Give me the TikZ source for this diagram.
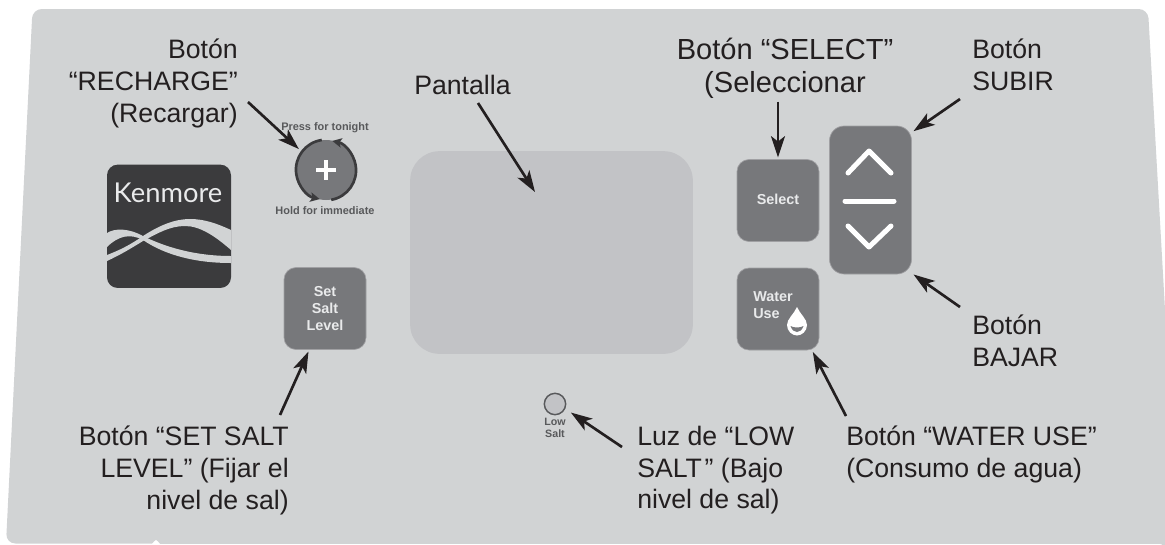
\documentclass[tikz,border=0pt]{standalone}
\usepackage{fontspec}
\setmainfont{Liberation Sans}
\newfontfamily\logofont{Lato}
\usepackage{xcolor}
\usetikzlibrary{calc,arrows.meta}

\definecolor{panelgray}{HTML}{D1D3D4}
\definecolor{screengray}{HTML}{C2C3C6}
\definecolor{btngray}{HTML}{77787B}
\definecolor{logodark}{HTML}{3B3B3D}
\definecolor{smallgray}{HTML}{58595B}
\definecolor{capwhite}{HTML}{E9EAEB}
\definecolor{inkblack}{HTML}{231F20}

\begin{document}
\begin{tikzpicture}[x=0.75pt,y=-0.75pt,
    panelbtn/.style={draw=btngray!70!white,line width=0.5pt,fill=btngray,rounded corners=9pt,
      minimum width=61.5pt,minimum height=61.5pt,inner sep=0pt,outer sep=1.5pt,
      text=capwhite,font=\bfseries\fontsize{10.8}{13}\selectfont},
    callout/.style={inner sep=0pt,text=inkblack,font=\fontsize{20}{23.7}\selectfont},
    pointer/.style={line width=2pt,inkblack,-{Stealth[length=16pt,width=10.5pt,inset=4pt]}},
    tinytext/.style={inner sep=0pt,text=smallgray,font=\bfseries\fontsize{8.2}{9}\selectfont},
    chevron/.style={white,line width=3.75pt,line cap=round,line join=round},
    ring/.style={logodark,line width=2pt,-{Stealth[length=7pt,width=7pt,inset=1.5pt]}}]

  % Panel, cut off by the page
  \clip (0,0) rectangle (1165,544);
  \fill[panelgray,rounded corners=7pt] (32.5,9) -- (1148,9) -- (1167,345) -- (1167,600) -- (1167,543.5) -- (6,543.5) -- cycle;
  \fill[panelgray] (158,540) rectangle (1165,544);
  \fill[white] (152,544) .. controls (154,543) and (154,540) .. (156,540) .. controls (158,540) and (158,543) .. (160,544) -- cycle;

  % Display
  \node[fill=screengray,rounded corners=22pt,minimum width=212pt,minimum height=152pt,inner sep=0pt] (screen) at (551.5,252.5) {};
  \coordinate (tipPantalla) at (535,192);

  % Kenmore logo
  \node[fill=logodark,rounded corners=8pt,minimum width=93pt,minimum height=92.5pt,inner sep=0pt] (logo) at (169,226.3) {};
  \begin{scope}
    \clip[rounded corners=8pt] (107,164.5) rectangle (231,288);
    \fill[panelgray] (107,233) .. controls (115,228) and (128,228) .. (143,236) .. controls (165,247) and (195,256) .. (231,256) -- (231,263)
      .. controls (195,263) and (165,255) .. (143,240) .. controls (130,233) and (118,236) .. (107,247) -- cycle;
    \fill[panelgray] (107,255) .. controls (120,250) and (130,245) .. (143,236) .. controls (160,225) and (175,219) .. (190,219)
      .. controls (205,219) and (218,224) .. (231,230) -- (231,250) .. controls (215,236) and (200,226) .. (185,226)
      .. controls (170,226) and (158,233) .. (143,241) .. controls (130,249) and (120,255) .. (107,261) -- cycle;
  \end{scope}
  \node[inner sep=0pt,text=capwhite,font=\logofont\fontsize{20.5}{24}\selectfont] (logoname) at (168,193) {Kenmore};

  % Recharge button
  \node[circle,fill=btngray,minimum size=45pt,inner sep=0pt] (btnRecharge) at (326,170) {};
  \draw[ring] (btnRecharge.98) arc[start angle=98,end angle=258,radius=22.5pt];
  \draw[ring] (btnRecharge.-80) arc[start angle=-80,end angle=78,radius=22.5pt];
  \draw[white,line width=3.4pt] (316,170) -- (336,170);
  \draw[white,line width=3.4pt] (326,160) -- (326,180);
  \node[tinytext] (txtPress) at (325,128) {Press for tonight};
  \node[tinytext] (txtHold) at (325,211) {Hold for immediate};

  % Buttons
  \node[panelbtn,align=center] (btnSalt) at (325,308.5) {Set\\Salt\\Level};
  \node[panelbtn] (btnSelect) at (778,200.5) {\raisebox{1.5pt}{Select}};
  \node[panelbtn] (btnWater) at (778,309) {};
  \node[inner sep=0pt,text=capwhite,align=left,anchor=north west,font=\bfseries\fontsize{10.8}{13}\selectfont] (txtWater) at (753,291) {Water\\Use};
  \fill[white] (797,307) .. controls (800,314) and (807,319) .. (807,325) .. controls (807,331) and (802,335.5) .. (797,335.5)
    .. controls (792,335.5) and (787,331) .. (787,325) .. controls (787,319) and (794,314) .. (797,307) -- cycle;
  \fill[btngray] (790.5,326) .. controls (792,330) and (794,332) .. (797,332) .. controls (800,332) and (802,330) .. (803.5,326)
    .. controls (800,328) and (794,328) .. (790.5,326) -- cycle;

  % Up and down button
  \node[panelbtn,minimum height=111pt,rounded corners=11pt] (btnUpDown) at (870.5,200) {};
  \draw[chevron] (848,173) -- (869,151) -- (891,173);
  \draw[chevron] (845,201) -- (894,201);
  \draw[chevron] (848,226) -- (869,247) -- (891,226);

  % Low salt light
  \node[circle,draw=smallgray,line width=1.1pt,fill=screengray,minimum size=16pt,inner sep=0pt] (ledSalt) at (555,404) {};
  \node[inner sep=0pt,text=smallgray,align=center,font=\bfseries\fontsize{8}{8.7}\selectfont] (txtSalt) at (555,428) {Low\\Salt};

  % Labels
  \node[callout,align=right,anchor=north east] (lblRecharge) at (238,39) {Botón\\“RECHARGE”\\(Recargar)};
  \node[callout,anchor=north west] (lblPantalla) at (414,75) {Pantalla};
  \node[callout,align=center,anchor=north,font=\fontsize{21.8}{24.5}\selectfont] (lblSelect) at (785,38) {Botón “SELECT”\\(Seleccionar};
  \node[callout,align=left,anchor=north west] (lblSubir) at (972,39) {Botón\\SUBIR};
  \node[callout,align=left,anchor=north west] (lblBajar) at (972,315) {Botón\\BAJAR};
  \node[callout,align=right,anchor=north east] (lblSalt) at (289,426) {Botón “SET SALT\\LEVEL” (Fijar el\\nivel de sal)};
  \node[callout,align=left,anchor=north west] (lblLuz) at (637,426) {Luz de “LOW\\SALT\kern2pt” (Bajo\\nivel de sal)};
  \node[callout,align=left,anchor=north west] (lblWater) at (846,426) {Botón “WATER USE”\\(Consumo de agua)};

  % Arrows
  \draw[pointer,shorten >=3pt] ($(lblRecharge.north east)+(10,63)$) -- (btnRecharge.143);
  \draw[pointer] ($(lblPantalla.north west)+(64,28)$) -- (tipPantalla);
  \draw[pointer] ($(lblSelect.south)+(-7,3)$) -- (btnSelect.north);
  \draw[pointer] ($(lblSubir.south west)+(-12,8)$) -- (btnUpDown.58);
  \draw[pointer] ($(lblBajar.north west)+(-12,-8)$) -- (btnUpDown.-60);
  \draw[pointer] ($(lblWater.north west)+(0,-10)$) -- (btnWater.-51);
  \draw[pointer,shorten >=5pt] ($(lblLuz.north west)+(-15,21)$) -- (ledSalt.-25);
  \draw[pointer] ($(lblSalt.north east)+(-9,-11)$) -- (btnSalt.-111);

\end{tikzpicture}
\end{document}
